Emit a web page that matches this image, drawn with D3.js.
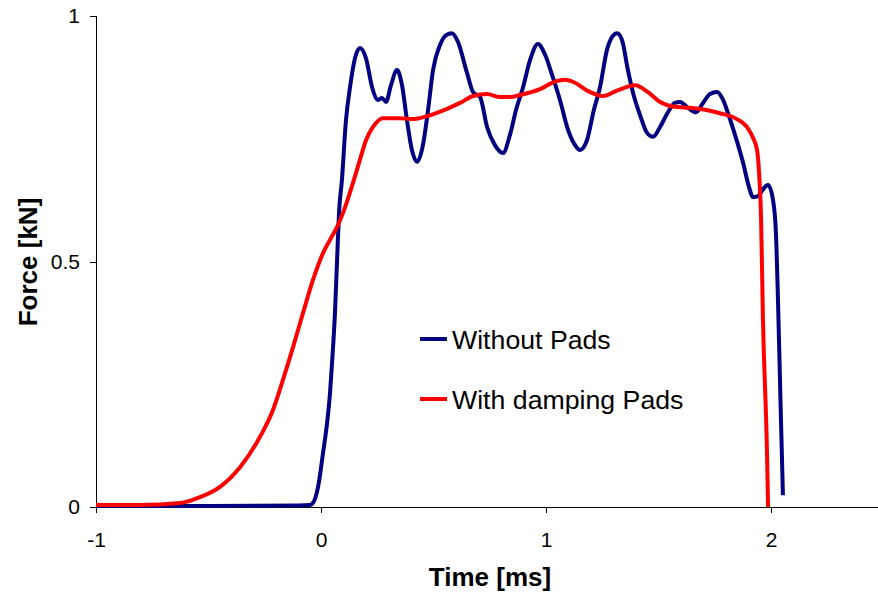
<!DOCTYPE html>
<html>
<head>
<meta charset="utf-8">
<script src="https://cdn.jsdelivr.net/npm/d3@7"></script>
<style>
  html, body { margin: 0; padding: 0; background: #fff; }
  svg { display: block; }
  text { font-family: "Liberation Sans", Arial, sans-serif; fill: #000; }
</style>
</head>
<body>
<svg id="chart" width="878" height="597"></svg>
<script>
// Time [ms] and force [kN] samples for the impact without pads
const timeWithout = [
  -1.00, -0.50, -0.10, -0.05, -0.036, -0.013, 0.009, 0.027, 0.040, 0.049, 0.062, 0.071, 0.080,
  0.093, 0.111, 0.129, 0.151, 0.173, 0.200, 0.227, 0.253, 0.271, 0.289, 0.311, 0.338, 0.360,
  0.382, 0.404, 0.427, 0.453, 0.476, 0.498, 0.529, 0.556, 0.582, 0.609, 0.649, 0.676, 0.707,
  0.738, 0.773, 0.809, 0.840, 0.867, 0.898, 0.929, 0.964, 0.996, 1.027, 1.062, 1.098, 1.129,
  1.151, 1.182, 1.213, 1.240, 1.271, 1.293, 1.316, 1.338, 1.364, 1.387, 1.418, 1.449, 1.476,
  1.507, 1.542, 1.573, 1.596, 1.631, 1.667, 1.698, 1.729, 1.760, 1.787, 1.809, 1.840, 1.876,
  1.902, 1.920, 1.942, 1.962, 1.978, 1.987, 2.009, 2.022, 2.031, 2.044, 2.053
];
const forceWithout = [
  0.002, 0.002, 0.003, 0.004, 0.008, 0.041, 0.110, 0.171, 0.232, 0.293, 0.395, 0.497, 0.599,
  0.666, 0.788, 0.855, 0.914, 0.935, 0.914, 0.855, 0.829, 0.833, 0.825, 0.859, 0.890, 0.859,
  0.788, 0.727, 0.703, 0.737, 0.809, 0.890, 0.941, 0.961, 0.965, 0.947, 0.884, 0.845, 0.835,
  0.774, 0.737, 0.721, 0.758, 0.809, 0.855, 0.910, 0.943, 0.921, 0.880, 0.829, 0.768, 0.737,
  0.727, 0.747, 0.809, 0.855, 0.931, 0.957, 0.965, 0.951, 0.890, 0.843, 0.798, 0.762, 0.754,
  0.774, 0.804, 0.823, 0.825, 0.813, 0.804, 0.823, 0.841, 0.845, 0.829, 0.802, 0.758, 0.701,
  0.652, 0.631, 0.633, 0.645, 0.654, 0.656, 0.625, 0.558, 0.422, 0.183, 0.024
];

// Time [ms] and force [kN] samples for the impact with damping pads
const timeDamped = [
  -1.00, -0.804, -0.627, -0.538, -0.449, -0.360, -0.271, -0.213, -0.169, -0.124, -0.080, -0.036,
  0.009, 0.040, 0.071, 0.098, 0.142, 0.173, 0.200, 0.231, 0.276, 0.351, 0.409, 0.471, 0.560,
  0.618, 0.676, 0.738, 0.796, 0.840, 0.884, 0.973, 1.027, 1.084, 1.129, 1.187, 1.253, 1.320,
  1.396, 1.453, 1.507, 1.573, 1.640, 1.707, 1.773, 1.840, 1.893, 1.920, 1.938, 1.947, 1.956,
  1.964, 1.982, 1.987
];
const forceDamped = [
  0.004, 0.004, 0.008, 0.020, 0.041, 0.081, 0.143, 0.198, 0.259, 0.326, 0.395, 0.462,
  0.517, 0.544, 0.570, 0.599, 0.660, 0.707, 0.747, 0.774, 0.792, 0.792, 0.790, 0.796, 0.811,
  0.823, 0.837, 0.841, 0.835, 0.835, 0.839, 0.851, 0.864, 0.870, 0.864, 0.847, 0.837, 0.849,
  0.859, 0.845, 0.825, 0.815, 0.813, 0.809, 0.802, 0.792, 0.774, 0.752, 0.727, 0.680, 0.585,
  0.387, 0.116, 0.000
];

const xTicks = [-1, 0, 1, 2];
const yTicks = [0, 0.5, 1];
const seriesNames = ["Without Pads", "With damping Pads"];
const seriesColors = ["#000080", "#ff0000"];

const svg = d3.select("#chart");
const x = d3.scaleLinear().domain([-1, 2.5]).range([96, 883.5]);
const y = d3.scaleLinear().domain([0, 1]).range([507, 16]);

// Axes (plain hyphen for negative labels)
const xAxis = svg.append("g")
  .attr("transform", `translate(0,${y(0)})`)
  .call(d3.axisBottom(x).tickValues(xTicks).tickFormat(d => String(d)).tickSize(6).tickSizeOuter(0).tickPadding(19));
const yAxis = svg.append("g")
  .attr("transform", `translate(${x(-1)},0)`)
  .call(d3.axisLeft(y).tickValues(yTicks).tickFormat(d => String(d)).tickSize(6).tickSizeOuter(6).tickPadding(10));

[xAxis, yAxis].forEach(g => {
  g.selectAll("path, line").attr("stroke", "#000").attr("stroke-width", 1).attr("shape-rendering", "crispEdges");
  g.selectAll("text").attr("font-size", 21).attr("font-family", "Liberation Sans, Arial, sans-serif").attr("fill", "#000");
});

// Axis titles
svg.append("text")
  .attr("x", 490).attr("y", 586)
  .attr("text-anchor", "middle")
  .attr("font-size", 26).attr("font-weight", "bold")
  .text("Time [ms]");
svg.append("text")
  .attr("transform", "translate(37,262) rotate(-90)")
  .attr("text-anchor", "middle")
  .attr("font-size", 26).attr("font-weight", "bold")
  .text("Force [kN]");

// Curves
const line = d3.line()
  .x(d => x(d[0]))
  .y(d => y(d[1]))
  .curve(d3.curveMonotoneX);

const series = [
  d3.zip(timeWithout, forceWithout),
  d3.zip(timeDamped, forceDamped)
];

series.forEach((pts, i) => {
  svg.append("path")
    .datum(pts)
    .attr("fill", "none")
    .attr("stroke", seriesColors[i])
    .attr("stroke-width", 4)
    .attr("stroke-linejoin", "round")
    .attr("d", line);
});

// Legend
const legend = svg.append("g").attr("transform", "translate(420,339)");
seriesNames.forEach((name, i) => {
  const row = legend.append("g").attr("transform", `translate(0,${i * 60})`);
  row.append("line")
    .attr("x1", 0).attr("x2", 27).attr("y1", 0).attr("y2", 0)
    .attr("stroke", seriesColors[i]).attr("stroke-width", 4);
  row.append("text")
    .attr("x", 32).attr("y", 0).attr("dy", "0.36em")
    .attr("font-size", 26.7)
    .text(name);
});
</script>
</body>
</html>
